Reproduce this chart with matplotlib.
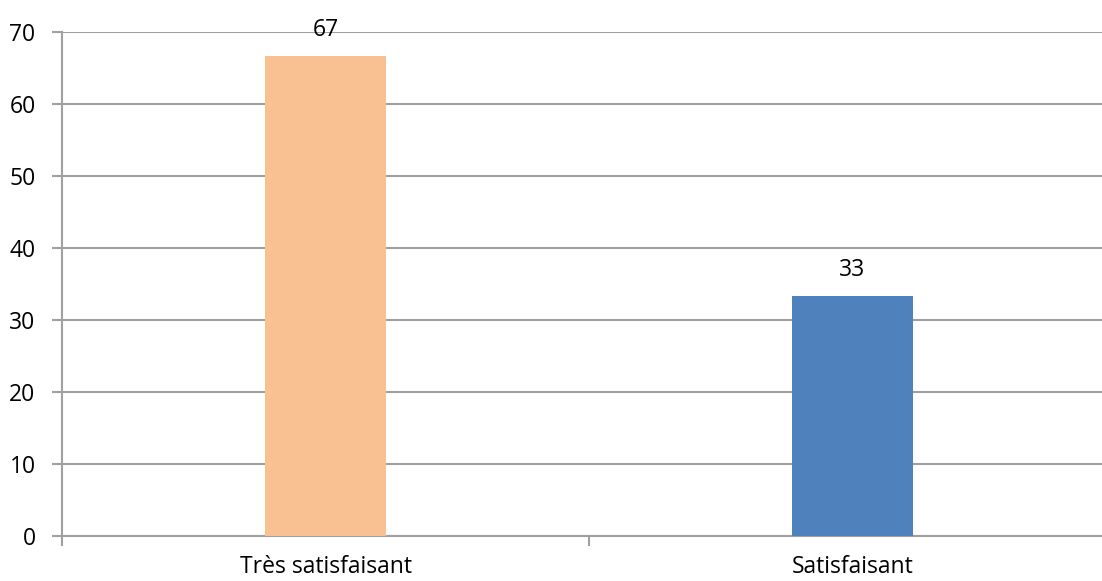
import matplotlib
matplotlib.use("Agg")
import matplotlib.pyplot as plt

# Data
categories = ["Très satisfaisant", "Satisfaisant"]
values = [66.7, 33.3]
labels = ["67", "33"]
colors = ["#F9C191", "#4F81BD"]
yticks = [0, 10, 20, 30, 40, 50, 60, 70]

plt.rcParams["font.family"] = ["Open Sans", "DejaVu Sans"]

W, H = 1102, 581
fig = plt.figure(figsize=(W / 100, H / 100), dpi=100)
# axes extends past the right edge of the picture, as in the reference
ax = fig.add_axes([62 / W, 45 / H, 1054 / W, 504 / H])

x = range(len(categories))
bars = ax.bar(x, values, width=0.23, color=colors, zorder=3)

for b, lab in zip(bars, labels):
    ax.annotate(lab, (b.get_x() + b.get_width() / 2, b.get_height()),
                xytext=(0, 10), textcoords="offset points",
                ha="center", va="bottom", fontsize=16.5, color="black", zorder=4)

ax.set_xlim(-0.5, 1.5)
ax.set_ylim(0, 70)
ax.set_yticks(yticks)
ax.set_xticks([-0.5, 0.5, 1.5], minor=False)
ax.set_xticklabels([])
ax.set_xticks(list(x), minor=True)
ax.set_xticklabels(categories, minor=True)

ax.grid(axis="y", color="#A0A0A0", linewidth=1.5, zorder=0)
for s in ["top", "right"]:
    ax.spines[s].set_visible(False)
ax.spines["left"].set_color("#A0A0A0")
ax.spines["left"].set_linewidth(1.5)
ax.spines["bottom"].set_color("#A0A0A0")
ax.spines["bottom"].set_linewidth(1.5)

ax.tick_params(axis="y", which="major", length=7, width=1.5, color="#A0A0A0",
               labelsize=16.5, pad=12)
ax.tick_params(axis="x", which="major", length=7, width=1.5, color="#A0A0A0")
ax.tick_params(axis="x", which="minor", length=0, labelsize=16.5, pad=14)

fig.savefig("out.png", dpi=100)
